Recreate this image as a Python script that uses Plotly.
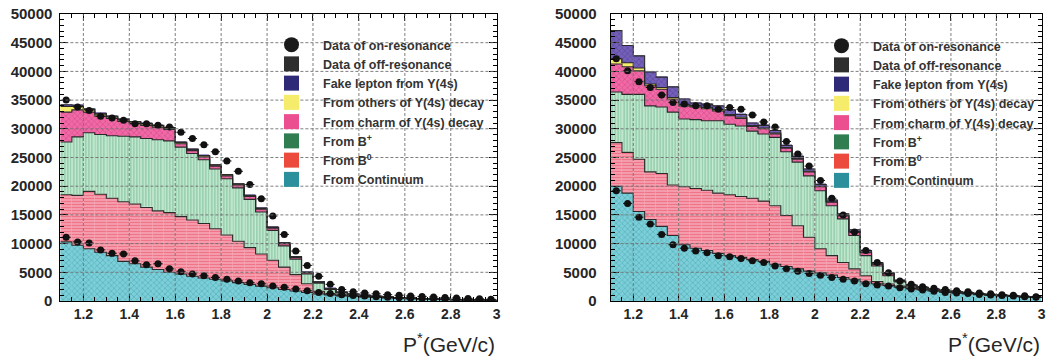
import plotly.graph_objects as go

# ---------------- data ----------------
P_MIN, BIN_W, N_BINS = 1.10, 0.05, 38
bin_centers = [round(P_MIN + BIN_W * (i + 0.5), 3) for i in range(N_BINS)]
bin_edges = [round(P_MIN + BIN_W * i, 3) for i in range(N_BINS + 1)]

x_tick_vals = [1.2, 1.4, 1.6, 1.8, 2.0, 2.2, 2.4, 2.6, 2.8, 3.0]
x_tick_text = ["1.2", "1.4", "1.6", "1.8", "2", "2.2", "2.4", "2.6", "2.8", "3"]
y_tick_vals = [0, 5000, 10000, 15000, 20000, 25000, 30000, 35000, 40000, 45000, 50000]
y_tick_text = [str(v) for v in y_tick_vals]

# Left panel
cont_L = [10300, 9700, 9100, 8500, 7900, 6900, 6500, 5900, 5500, 5000, 4700, 4300, 4000, 3800, 3500, 3200, 2900, 2600, 2300, 2000,
          1750, 1500, 1250, 1050, 900, 800, 700, 600, 520, 450, 400, 340, 290, 240, 200, 160, 130, 100]
b0_L = [8200, 8700, 10000, 10100, 10000, 10400, 10400, 10400, 10200, 10400, 10000, 9800, 9500, 8800, 8000, 7200, 6400, 5600, 4800, 3900,
        2850, 1500, 450, 150, 100, 80, 60, 50, 40, 30, 20, 20, 15, 15, 10, 10, 10, 8]
bp_L = [9200, 10200, 10200, 10400, 10900, 11400, 11700, 12000, 12400, 12500, 12100, 11600, 11100, 10400, 9800, 9300, 8400, 7300, 5200, 3700,
        2700, 1700, 1400, 800, 400, 220, 140, 110, 80, 60, 50, 40, 35, 25, 20, 15, 10, 7]
charm_L = [5200, 4700, 3600, 3200, 3000, 2600, 2300, 2300, 2200, 2000, 600, 500, 500, 500, 500, 500, 500, 500, 400, 400,
           300, 200, 150, 100, 80, 60, 50, 40, 30, 25, 20, 15, 10, 10, 8, 5, 5, 3]
others_L = [1000, 600, 450, 350, 300, 280, 260, 240, 220, 200, 200, 180, 170, 160, 150, 140, 130, 120, 110, 100,
            90, 80, 60, 50, 40, 30, 30, 20, 20, 20, 10, 10, 10, 10, 10, 10, 10, 10]
fake_L = [300, 200, 150, 150, 120, 120, 100, 100, 100, 100, 100, 90, 90, 80, 80, 70, 70, 60, 60, 50,
          50, 40, 30, 30, 20, 20, 20, 10, 10, 10, 10, 10, 10, 10, 10, 10, 10, 10]
on_L = [35000, 33800, 33200, 32200, 31900, 31500, 30900, 30900, 30600, 30300, 29400, 28300, 27200, 26000, 24400, 22600, 20300, 17800, 14800, 11600,
        8700, 6200, 4300, 2900, 2000, 1600, 1400, 1250, 1100, 1000, 870, 800, 700, 600, 520, 450, 380, 300]
off_L = [11100, 10300, 10100, 8900, 8300, 8200, 7000, 6300, 6500, 5600, 5100, 4700, 4400, 4100, 3800, 3500, 3200, 3000, 2600, 2400,
         2100, 1800, 1500, 1300, 1100, 950, 850, 750, 650, 550, 480, 420, 360, 300, 260, 220, 180, 150]

# Right panel
cont_R = [20000, 18800, 15600, 14200, 13000, 11400, 9800, 9200, 8800, 8300, 7900, 7600, 7200, 6900, 6400, 6000, 5600, 5200, 4900, 4500,
          4100, 3800, 3300, 3000, 2700, 2400, 2150, 1950, 1750, 1550, 1400, 1250, 1100, 1000, 900, 800, 700, 600]
b0_R = [7600, 7100, 9100, 8300, 9200, 8800, 10100, 10400, 10500, 10500, 10600, 10600, 10700, 10500, 10200, 8900, 7500, 5900, 4200, 3400,
        2600, 1800, 1100, 400, 250, 200, 150, 130, 100, 90, 80, 70, 60, 50, 40, 30, 30, 20]
bp_R = [8800, 10100, 11300, 11500, 11600, 12700, 11800, 12000, 12100, 12600, 12300, 12300, 11700, 11700, 11900, 11100, 11100, 10700, 10100, 8700,
        7600, 5800, 3500, 2700, 1450, 700, 300, 170, 100, 80, 60, 50, 40, 30, 20, 20, 20, 20]
charm_R = [4900, 4800, 4100, 3500, 3100, 2300, 2300, 2200, 2100, 1700, 1500, 1300, 800, 900, 600, 600, 500, 700, 700, 600,
           500, 600, 500, 300, 300, 150, 100, 70, 50, 40, 30, 20, 20, 20, 15, 10, 10, 10]
others_R = [900, 700, 500, 300, 300, 250, 200, 200, 200, 200, 200, 200, 150, 150, 150, 150, 150, 100, 100, 100,
            100, 100, 80, 60, 50, 40, 30, 30, 20, 20, 20, 20, 10, 10, 10, 10, 10, 10]
fake_R = [4900, 3000, 2100, 2100, 1800, 1850, 1000, 500, 600, 700, 800, 500, 450, 450, 450, 350, 350, 400, 300, 300,
          300, 300, 320, 240, 150, 110, 70, 50, 40, 30, 20, 20, 20, 20, 15, 10, 10, 10]
on_R = [42200, 40100, 38200, 37200, 35900, 34600, 34300, 34000, 34000, 33400, 33700, 33400, 32400, 31200, 30300, 27800, 25600, 23500, 21000, 17900,
        15000, 12000, 8800, 6700, 4900, 3500, 2900, 2500, 2200, 2000, 1800, 1600, 1400, 1250, 1100, 1000, 900, 750]
off_R = [19200, 17000, 14600, 13400, 11600, 9800, 9200, 8700, 8400, 7900, 7700, 7400, 7000, 6700, 6100, 5600, 5200, 4800, 4500, 4100,
         3800, 3500, 3000, 2800, 2600, 2300, 2100, 1900, 1700, 1500, 1400, 1300, 1150, 1050, 950, 850, 750, 650]

names = {
    "on": "Data of on-resonance",
    "off": "Data of off-resonance",
    "fake": "Fake lepton from \u03a5(4s)",
    "others": "From others of \u03a5(4s) decay",
    "charm": "From charm of \u03a5(4s) decay",
    "bp": "From B<sup>+</sup>",
    "b0": "From B<sup>0</sup>",
    "cont": "From Continuum",
}

# ---------------- styles ----------------
FONT = "Liberation Sans"
TXT = "#262626"
styles = {  # key: (legend colour, bar background, pattern fg, pattern shape, size, solidity)
    "cont": ("#2b8f9c", "#7ccfd8", "#2f8a9a", "x", 4, 0.3),
    "b0": ("#ec4a3c", "#f7a9b8", "#ea4058", "-", 3, 0.5),
    "bp": ("#2f7d50", "#c8ecd6", "#3f9a62", "|", 3, 0.45),
    "charm": ("#ec4f8f", "#f06aa6", "#c02a74", "x", 4, 0.3),
    "others": ("#f6ec6c", "#f6ec6c", "#f6ec6c", "", 0, 0),
    "fake": ("#2f2a78", "#7560b8", "#3a2c86", "x", 4, 0.3),
}
stack_order = ["cont", "b0", "bp", "charm", "others", "fake"]

panels = [
    dict(xa="x", ya="y", lg="legend",
         data=dict(cont=cont_L, b0=b0_L, bp=bp_L, charm=charm_L, others=others_L, fake=fake_L), on=on_L, off=off_L),
    dict(xa="x2", ya="y2", lg="legend2",
         data=dict(cont=cont_R, b0=b0_R, bp=bp_R, charm=charm_R, others=others_R, fake=fake_R), on=on_R, off=off_R),
]

fig = go.Figure()
for p in panels:
    cum = [0.0] * N_BINS
    tops = []
    for key in stack_order:
        vals = p["data"][key]
        leg, bg, fg, shp, psize, psol = styles[key]
        marker = dict(color=bg, line=dict(width=0.6, color=bg))
        if shp:
            marker["pattern"] = dict(shape=shp, fgcolor=fg, bgcolor=bg, size=psize, solidity=psol, fillmode="overlay")
        fig.add_trace(go.Bar(x=bin_centers, y=vals, width=BIN_W, marker=marker, showlegend=False,
                             xaxis=p["xa"], yaxis=p["ya"], hoverinfo="skip"))
        cum = [c + v for c, v in zip(cum, vals)]
        tops.append(list(cum))
    for t in tops:
        fig.add_trace(go.Scatter(x=bin_edges, y=t + [t[-1]], mode="lines",
                                 line=dict(shape="hv", color="#2a2a2a", width=1.1),
                                 showlegend=False, xaxis=p["xa"], yaxis=p["ya"], hoverinfo="skip"))
    for key, size in (("off", 7), ("on", 7)):
        fig.add_trace(go.Scatter(x=bin_centers, y=p[key], mode="markers",
                                 marker=dict(symbol="circle", size=size, color="#111111"),
                                 error_x=dict(type="constant", value=0.02, thickness=1, width=0, color="#111111"),
                                 showlegend=False, xaxis=p["xa"], yaxis=p["ya"]))
    # legend entries
    legend_items = [("on", "circle", "#1a1a1a"), ("off", "square", "#2e2e2e")] + \
                   [(k, "square", styles[k][0]) for k in ["fake", "others", "charm", "bp", "b0", "cont"]]
    for key, sym, col in legend_items:
        fig.add_trace(go.Scatter(x=[None], y=[None], mode="markers", name=names[key],
                                 marker=dict(symbol=sym, size=15, color=col),
                                 legend=p["lg"], xaxis=p["xa"], yaxis=p["ya"]))

W, H = 1058, 358
TOP, BOT = 14, 301
PH = BOT - TOP
axis_common = dict(showline=True, linecolor="black", linewidth=1, mirror="allticks", ticks="inside",
                   tickcolor="black", showgrid=False, zeroline=False, layer="above traces",
                   tickfont=dict(family=FONT, size=14, color=TXT, weight="bold"))
xcommon = dict(axis_common, range=[1.1, 3.0], tickvals=x_tick_vals, ticktext=x_tick_text, ticklen=7,
               tickangle=0,
               minor=dict(tickvals=bin_edges, ticklen=4, ticks="inside", tickcolor="black", showgrid=False))
ycommon = dict(axis_common, range=[0, 50000], tickvals=y_tick_vals, ticktext=y_tick_text, ticklen=8,
               minor=dict(dtick=1000, ticklen=4, ticks="inside", tickcolor="black", showgrid=False))
ycommon["tickfont"] = dict(family=FONT, size=15, color=TXT, weight="bold")

legend_common = dict(xref="paper", yref="paper", xanchor="left", yanchor="top",
                     bgcolor="rgba(0,0,0,0)", borderwidth=0, itemwidth=53, tracegroupgap=0,
                     traceorder="normal", font=dict(family=FONT, size=12.5, color="#333333", weight="bold"))

fig.update_layout(
    width=W, height=H, margin=dict(l=0, r=0, t=TOP, b=H - BOT, autoexpand=False),
    paper_bgcolor="white", plot_bgcolor="white", barmode="stack", bargap=0,
    xaxis=dict(xcommon, domain=[60.4 / W, 496.7 / W], anchor="y"),
    yaxis=dict(ycommon, anchor="x", ticklabelstandoff=4),
    xaxis2=dict(xcommon, domain=[610.6 / W, 1041.7 / W], anchor="y2"),
    yaxis2=dict(ycommon, anchor="x2", ticklabelstandoff=10),
    legend=dict(legend_common, x=260 / W, y=(BOT - 30) / PH),
    legend2=dict(legend_common, x=810 / W, y=(BOT - 31) / PH),
    showlegend=True,
)

# dashed grid drawn over the histograms (as in the original)
grid_line = dict(color="#6f6f6f", width=0.9, dash="3px,2px")
for xa, ya in (("x", "y"), ("x2", "y2")):
    for xv in x_tick_vals[:-1]:
        fig.add_shape(type="line", xref=xa, yref=ya + " domain", x0=xv, x1=xv, y0=0, y1=1,
                      line=grid_line, layer="above")
    for yv in y_tick_vals[1:-1]:
        fig.add_shape(type="line", xref=xa + " domain", yref=ya, x0=0, x1=1, y0=yv, y1=yv,
                      line=grid_line, layer="above")

for xd in ("x domain", "x2 domain"):
    fig.add_annotation(text="P<sup>*</sup>(GeV/c)", xref=xd, yref="y domain", x=1, y=(BOT - 343) / PH,
                       xanchor="right", yanchor="middle", showarrow=False,
                       font=dict(family=FONT, size=21, color=TXT))

fig.write_html("out.html")
